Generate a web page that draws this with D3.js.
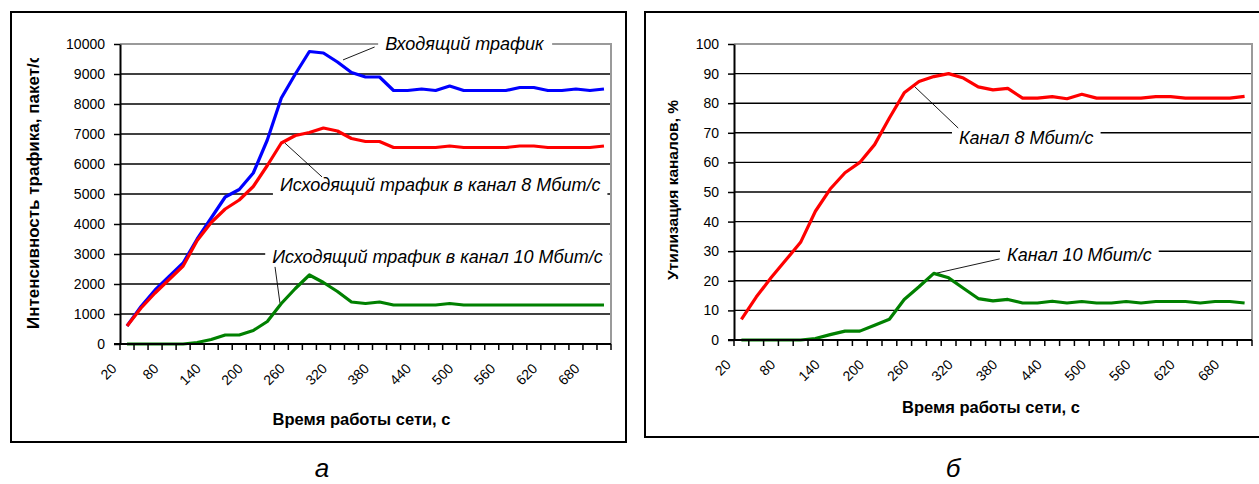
<!DOCTYPE html>
<html>
<head>
<meta charset="utf-8">
<script src="https://cdn.jsdelivr.net/npm/d3@7"></script>
<style>
  html, body { margin: 0; padding: 0; background: #fff; }
  text { font-family: Arial, "Liberation Sans", sans-serif; fill: #000; }
</style>
</head>
<body>
<svg id="chart" width="1259" height="484"></svg>
<script>
// time, s
const categories = [20, 40, 60, 80, 100, 120, 140, 160, 180, 200, 220, 240, 260, 280, 300, 320, 340,
  360, 380, 400, 420, 440, 460, 480, 500, 520, 540, 560, 580, 600, 620, 640, 660, 680, 700];
const tickLabels = [20, 80, 140, 200, 260, 320, 380, 440, 500, 560, 620, 680];

// panel a: traffic, packets/s
const incoming = [600, 1250, 1800, 2250, 2700, 3500, 4200, 4900, 5150, 5700, 6800, 8200, 9000, 9750, 9700,
  9400, 9050, 8900, 8900, 8450, 8450, 8500, 8450, 8600, 8450, 8450, 8450, 8450, 8550, 8550, 8450, 8450, 8500, 8450, 8500];
const out8 = [600, 1200, 1700, 2150, 2600, 3450, 4050, 4500, 4800, 5250, 5950, 6700, 6950, 7050, 7200,
  7100, 6850, 6750, 6750, 6550, 6550, 6550, 6550, 6600, 6550, 6550, 6550, 6550, 6600, 6600, 6550, 6550, 6550, 6550, 6600];
const out10 = [0, 0, 0, 0, 0, 50, 150, 300, 300, 450, 750, 1350, 1850, 2300, 2050,
  1750, 1400, 1350, 1400, 1300, 1300, 1300, 1300, 1350, 1300, 1300, 1300, 1300, 1300, 1300, 1300, 1300, 1300, 1300, 1300];

// panel b: channel utilisation, %
const util8 = [7, 14.5, 21, 27, 33, 43.5, 51, 56.5, 60, 66, 75, 83.5, 87.3, 89, 90,
  88.5, 85.5, 84.5, 85, 81.7, 81.7, 82.2, 81.5, 83, 81.7, 81.7, 81.7, 81.7, 82.2, 82.2, 81.7, 81.7, 81.7, 81.7, 82.3];
const util10 = [0, 0, 0, 0, 0, 0.5, 1.8, 3, 3, 5, 7, 13.7, 18, 22.5, 21,
  17.5, 14, 13.2, 13.7, 12.5, 12.5, 13.1, 12.5, 13, 12.5, 12.5, 13, 12.5, 13, 13, 13, 12.5, 13, 13, 12.5];

const svg = d3.select('#chart');

function drawPanel(cfg) {
  const g = svg.append('g');

  // outer frame
  g.append('rect')
    .attr('x', cfg.frame[0]).attr('y', cfg.frame[1])
    .attr('width', cfg.frame[2]).attr('height', cfg.frame[3])
    .attr('fill', 'none').attr('stroke', '#000').attr('stroke-width', 2);

  const x = d3.scaleBand().domain(categories).range([cfg.left, cfg.right]).padding(0);
  const bw = x.bandwidth();
  const xc = d3.scaleLinear()
    .domain([categories[0], categories[categories.length - 1]])
    .range([x(categories[0]) + bw / 2, x(categories[categories.length - 1]) + bw / 2]);
  const y = d3.scaleLinear().domain([0, cfg.yMax]).range([cfg.bottom, cfg.top]);

  // grid
  g.append('g').selectAll('line')
    .data(cfg.yTicks.filter(v => v > 0 && v < cfg.yMax))
    .join('line')
    .attr('x1', cfg.left).attr('x2', cfg.right)
    .attr('y1', d => y(d)).attr('y2', d => y(d))
    .attr('stroke', '#000').attr('stroke-width', 1.4);

  // plot border (grey top / right)
  g.append('path')
    .attr('d', `M${cfg.left},${cfg.top}H${cfg.right}V${cfg.bottom}`)
    .attr('fill', 'none').attr('stroke', '#9a9a9a').attr('stroke-width', 2);

  // annotation boxes sit over the grid
  const notes = g.append('g');
  cfg.notes.forEach(n => {
    const t = notes.append('text')
      .attr('x', xc(n.at[0])).attr('y', y(n.at[1]))
      .attr('dy', '0.35em')
      .style('font-size', '18px').style('font-style', 'italic')
      .text(n.text);
    const bb = t.node().getBBox();
    notes.insert('rect', 'text')
      .attr('x', bb.x - 7).attr('y', bb.y)
      .attr('width', bb.width + 14).attr('height', bb.height)
      .attr('fill', '#fff');
    notes.append('line')
      .attr('x1', xc(n.from[0])).attr('y1', y(n.from[1]))
      .attr('x2', xc(n.to[0])).attr('y2', y(n.to[1]))
      .attr('stroke', '#000').attr('stroke-width', 0.9);
  });

  // series
  const line = d3.line().x((d, i) => x(categories[i]) + bw / 2).y(d => y(d));
  cfg.series.forEach(s => {
    g.append('path').datum(s.values)
      .attr('d', line)
      .attr('fill', 'none').attr('stroke', s.color)
      .attr('stroke-width', 3.2).attr('stroke-linejoin', 'round');
  });

  // y axis
  const yAxis = g.append('g')
    .attr('transform', `translate(${cfg.left},0)`)
    .call(d3.axisLeft(y).tickValues(cfg.yTicks).tickFormat(d3.format('d'))
      .tickSize(6).tickPadding(9).tickSizeOuter(0));
  yAxis.select('.domain').attr('stroke-width', 2);
  yAxis.selectAll('.tick line').attr('stroke-width', 1.5);
  yAxis.selectAll('.tick text').style('font-size', '14px')
    .style('font-family', 'Arial, "Liberation Sans", sans-serif').attr('fill', '#000');

  // x axis: ticks between categories, rotated labels every 3rd
  const xAxis = g.append('g').attr('transform', `translate(0,${cfg.bottom})`);
  xAxis.append('line')
    .attr('x1', cfg.left - 6).attr('x2', cfg.right)
    .attr('stroke', '#000').attr('stroke-width', 2);
  xAxis.selectAll('line.tk')
    .data(categories.map(c => x(c)).concat([cfg.right]))
    .join('line').attr('class', 'tk')
    .attr('x1', d => d).attr('x2', d => d)
    .attr('y1', 0).attr('y2', 6)
    .attr('stroke', '#000').attr('stroke-width', 1.5);
  xAxis.selectAll('text')
    .data(tickLabels)
    .join('text')
    .attr('transform', d => `translate(${xc(d) - 13},${cfg.labelDrop}) rotate(-45)`)
    .attr('text-anchor', 'end')
    .attr('dy', '0.35em')
    .style('font-size', '14px')
    .text(d => d);

  // axis titles
  g.append('text')
    .attr('x', (cfg.left + cfg.right) / 2 + cfg.xTitleShift).attr('y', cfg.xTitleY)
    .attr('text-anchor', 'middle')
    .style('font-size', '16.5px').style('font-weight', 'bold')
    .text('Время работы сети, с');

  const clipId = 'clip' + cfg.id;
  svg.append('defs').append('clipPath').attr('id', clipId)
    .append('rect').attr('x', 0).attr('y', cfg.yTitleClip).attr('width', 1259).attr('height', 484);
  g.append('g').attr('clip-path', `url(#${clipId})`)
    .append('text')
    .attr('transform', `translate(${cfg.yTitleX},${cfg.yTitleY}) rotate(-90)`)
    .attr('text-anchor', cfg.yTitleAnchor)
    .style('font-size', cfg.yTitleSize).style('font-weight', 'bold')
    .text(cfg.yTitle);

  // panel letter
  g.append('text')
    .attr('x', cfg.letterX).attr('y', 477)
    .attr('text-anchor', 'middle')
    .style('font-size', '26px').style('font-style', 'italic')
    .text(cfg.letter);
}

drawPanel({
  id: 'a',
  frame: [11, 12, 615, 430],
  left: 120, right: 611, top: 44, bottom: 344,
  yMax: 10000, yTicks: d3.range(0, 10001, 1000),
  series: [
    { values: incoming, color: '#0000ff' },
    { values: out8, color: '#ff0000' },
    { values: out10, color: '#008000' }
  ],
  notes: [
    { text: 'Входящий трафик', at: [388, 10000], from: [328, 9470], to: [373, 9900] },
    { text: 'Исходящий трафик в канал 8 Мбит/с', at: [238, 5300], from: [245, 6700], to: [298, 5570] },
    { text: 'Исходящий трафик в канал 10 Мбит/с', at: [227, 2900], from: [231, 2570], to: [238, 1370] }
  ],
  labelDrop: 22,
  xTitleShift: -4, xTitleY: 425,
  yTitle: 'Интенсивность трафика, пакет/с', yTitleX: 39, yTitleY: 329, yTitleAnchor: 'start',
  yTitleClip: 58, yTitleSize: '17px',
  letter: 'а', letterX: 322
});

drawPanel({
  id: 'b',
  frame: [645, 12, 620, 425],
  left: 734, right: 1252, top: 44, bottom: 340,
  yMax: 100, yTicks: d3.range(0, 101, 10),
  series: [
    { values: util8, color: '#ff0000' },
    { values: util10, color: '#008000' }
  ],
  notes: [
    { text: 'Канал 8 Мбит/с', at: [314, 68.2], from: [252, 86.1], to: [313, 71.6] },
    { text: 'Канал 10 Мбит/с', at: [379, 28.7], from: [284, 22.6], to: [369, 27.4] }
  ],
  labelDrop: 22,
  xTitleShift: -2, xTitleY: 413,
  yTitle: 'Утилизация каналов, %', yTitleX: 678, yTitleY: 190, yTitleAnchor: 'middle',
  yTitleClip: 0, yTitleSize: '15.5px',
  letter: 'б', letterX: 953
});
</script>
</body>
</html>
